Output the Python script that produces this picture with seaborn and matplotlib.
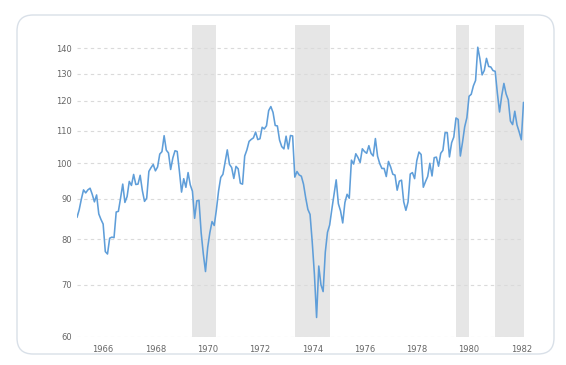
import numpy as np
import pandas as pd
import matplotlib
matplotlib.use("Agg")
import matplotlib.pyplot as plt
import seaborn as sns
from matplotlib.patches import FancyBboxPatch
from matplotlib.ticker import FixedLocator, FixedFormatter, NullLocator

# ---- data: S&P 500 monthly close, Jul 1965 .. Aug 1982 ----
start_month = "1965-07-01"
values_1965 = [85.25, 87.17, 89.96, 92.42, 91.61, 92.43]
values_1966 = [92.88, 91.22, 89.23, 91.06, 86.13, 84.74, 83.60, 77.10, 76.56, 80.20, 80.45, 80.33]
values_1967 = [86.61, 86.78, 90.20, 94.01, 89.08, 90.64, 94.75, 93.64, 96.71, 93.90, 94.00, 96.47]
values_1968 = [92.24, 89.36, 90.20, 97.59, 98.68, 99.58, 97.74, 98.86, 102.67, 103.41, 108.37, 103.86]
values_1969 = [103.01, 98.13, 101.51, 103.69, 103.46, 97.71, 91.83, 95.51, 93.12, 97.24, 93.81, 92.06]
values_1970 = [85.02, 89.50, 89.63, 81.52, 76.55, 72.72, 78.05, 81.52, 84.21, 83.25, 87.20, 92.15]
values_1971 = [95.88, 96.75, 100.31, 103.95, 99.63, 98.70, 95.58, 99.03, 98.34, 94.23, 93.99, 102.09]
values_1972 = [103.94, 106.57, 107.20, 107.67, 109.53, 107.14, 107.39, 111.09, 110.55, 111.58, 116.67, 118.05]
values_1973 = [116.03, 111.68, 111.52, 106.97, 104.95, 104.26, 108.22, 104.25, 108.43, 108.29, 95.96, 97.55]
values_1974 = [96.57, 96.22, 93.98, 90.31, 87.28, 86.00, 79.31, 72.15, 63.54, 73.90, 69.97, 68.56]
values_1975 = [76.98, 81.59, 83.36, 87.30, 91.15, 95.19, 88.75, 86.88, 83.87, 89.04, 91.24, 90.19]
values_1976 = [100.86, 99.71, 102.77, 101.64, 100.18, 104.28, 103.44, 102.91, 105.24, 102.90, 102.10, 107.46]
values_1977 = [102.03, 99.82, 98.42, 98.44, 96.12, 100.48, 98.85, 96.77, 96.53, 92.34, 94.83, 95.10]
values_1978 = [89.25, 87.04, 89.21, 96.83, 97.24, 95.53, 100.68, 103.29, 102.54, 93.15, 94.70, 96.11]
values_1979 = [99.93, 96.28, 101.59, 101.76, 99.08, 102.91, 103.81, 109.32, 109.32, 101.82, 106.16, 107.94]
values_1980 = [114.16, 113.66, 102.09, 106.29, 111.24, 114.24, 121.67, 122.38, 125.46, 127.47, 140.52, 135.76]
values_1981 = [129.55, 131.27, 136.00, 132.81, 132.59, 131.21, 130.92, 122.79, 116.18, 121.89, 126.35, 122.55]
values_1982 = [120.40, 113.11, 111.96, 116.44, 111.88, 109.61, 107.09, 119.51]

# recessions (start, end) as year-month
recession_starts = ["1969-12", "1973-11", "1980-01", "1981-07"]
recession_ends = ["1970-11", "1975-03", "1980-07", "1982-11"]

y_ticks = [60, 70, 80, 90, 100, 110, 120, 130, 140]
x_tick_years = [1966, 1968, 1970, 1972, 1974, 1976, 1978, 1980, 1982]

# ---- build frame ----
values = (values_1965 + values_1966 + values_1967 + values_1968 + values_1969 +
          values_1970 + values_1971 + values_1972 + values_1973 + values_1974 +
          values_1975 + values_1976 + values_1977 + values_1978 + values_1979 +
          values_1980 + values_1981 + values_1982)
dates = pd.date_range(start_month, periods=len(values), freq="MS")
df = pd.DataFrame({"t": dates.year + (dates.month - 1) / 12.0, "value": values})


def ym(s):
    d = pd.Timestamp(s + "-01")
    return d.year + (d.month - 1) / 12.0


# ---- figure ----
sns.set_style("white")
W, H = 566, 365
fig = plt.figure(figsize=(W / 100, H / 100), dpi=100)
fig.patch.set_facecolor("white")

frame = FancyBboxPatch((0.17, 0.11), 5.37, 3.39,
                       boxstyle="round,pad=0,rounding_size=0.16",
                       transform=fig.dpi_scale_trans, facecolor="none",
                       edgecolor="#d9e0e8", linewidth=1.0, zorder=-1)
fig.patches.append(frame)

left, right = 77 / W, 523.5 / W
bottom, top = (H - 337) / H, (H - 25) / H
ax = fig.add_axes([left, bottom, right - left, top - bottom])
ax.set_facecolor("none")

for s, e in zip(recession_starts, recession_ends):
    ax.axvspan(ym(s), ym(e), color="#e6e6e6", lw=0, zorder=0)

sns.lineplot(data=df, x="t", y="value", ax=ax, color="#5f9ed9", lw=1.15, zorder=3)

ax.set_yscale("log")
ax.set_ylim(60, 150)
ax.set_xlim(df["t"].iloc[0], df["t"].iloc[-1])

ax.yaxis.set_major_locator(FixedLocator(y_ticks))
ax.yaxis.set_major_formatter(FixedFormatter([str(v) for v in y_ticks]))
ax.yaxis.set_minor_locator(NullLocator())
ax.xaxis.set_major_locator(FixedLocator([y + 0.5 for y in x_tick_years]))
ax.xaxis.set_major_formatter(FixedFormatter([str(y) for y in x_tick_years]))
ax.xaxis.set_minor_locator(NullLocator())

ax.tick_params(axis="y", length=0, pad=3.8, labelsize=6, labelcolor="#666666")
ax.tick_params(axis="x", length=0, pad=5.5, labelsize=6, labelcolor="#666666")

ax.set_axisbelow(True)
ax.grid(axis="y", color="#dadada", lw=0.8, ls=(0, (3, 3)))
ax.grid(axis="x", visible=False)
for sp in ax.spines.values():
    sp.set_visible(False)
ax.set_xlabel("")
ax.set_ylabel("")

fig.savefig("out.png", dpi=100)
